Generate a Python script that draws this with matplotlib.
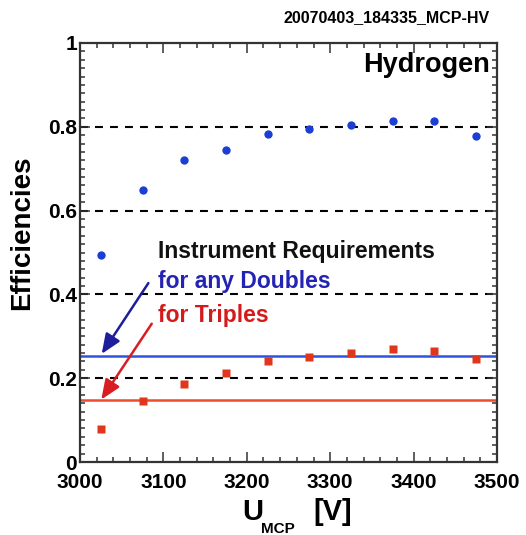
import matplotlib
matplotlib.use("Agg")
import matplotlib.pyplot as plt
from matplotlib.ticker import MultipleLocator, FixedLocator

# ---- data ----
u_mcp = [3025, 3075, 3125, 3175, 3225, 3275, 3325, 3375, 3425, 3475]
eff_doubles = [0.494, 0.648, 0.721, 0.744, 0.783, 0.795, 0.805, 0.815, 0.814, 0.779]
eff_triples = [0.078, 0.146, 0.186, 0.213, 0.240, 0.250, 0.259, 0.270, 0.264, 0.245]
req_doubles = 0.252
req_triples = 0.147
grid_levels = [0.2, 0.4, 0.6, 0.8]
x_ticks = [3000, 3100, 3200, 3300, 3400, 3500]
y_ticks = [0, 0.2, 0.4, 0.6, 0.8, 1.0]
y_tick_labels = ["0", "0.2", "0.4", "0.6", "0.8", "1"]
title_text = "20070403_184335_MCP-HV"
species = "Hydrogen"
req_lines = ["Instrument Requirements", "for any Doubles", "for Triples"]

plt.rcParams['font.family'] = ['Liberation Sans', 'DejaVu Sans']
plt.rcParams['font.weight'] = 'bold'

W, H = 526, 535
fig = plt.figure(figsize=(W / 100, H / 100), dpi=100)
left, right, bottom, top = 80 / W, 497 / W, 1 - 462 / H, 1 - 43 / H
ax = fig.add_axes([left, bottom, right - left, top - bottom])

ax.set_xlim(3000, 3500)
ax.set_ylim(0, 1)

# dashed grid lines
for g in grid_levels:
    ax.axhline(g, color='black', lw=1.5, ls=(0, (3.8, 3.4)), zorder=1)

# requirement lines
ax.axhline(req_doubles, color='#2f52e0', lw=1.8, zorder=2)
ax.axhline(req_triples, color='#ee4a2c', lw=1.8, zorder=2)

# data
ax.plot(u_mcp, eff_doubles, 'o', color='#1b3fd6', ms=6.0, mec='none', zorder=3)
ax.plot(u_mcp, eff_triples, 's', color='#e0361c', ms=5.6, mec='none', zorder=3)

# texts
ax.text(0.983, 0.931, species, transform=ax.transAxes, ha='right', va='baseline',
        fontsize=19.5, fontweight='bold', color='black')
ax.text(3093.5, 0.486, req_lines[0], ha='left', va='baseline', fontsize=16.5,
        fontweight='bold', color='#111111')
ax.text(3093.5, 0.415, req_lines[1], ha='left', va='baseline', fontsize=16.5,
        fontweight='bold', color='#2323b4')
ax.text(3093.5, 0.333, req_lines[2], ha='left', va='baseline', fontsize=16.5,
        fontweight='bold', color='#d41a1a')

# arrows
ax.annotate('', xy=(3026, 0.258), xytext=(3082, 0.427),
            arrowprops=dict(arrowstyle='-|>,head_length=0.6,head_width=0.25',
                            color='#1e1e9c', lw=1.8,
                            mutation_scale=20, shrinkA=0, shrinkB=0))
ax.annotate('', xy=(3025.5, 0.149), xytext=(3086, 0.330),
            arrowprops=dict(arrowstyle='-|>,head_length=0.6,head_width=0.25',
                            color='#d81e22', lw=1.8,
                            mutation_scale=20, shrinkA=0, shrinkB=0))

# ticks
ax.xaxis.set_major_locator(FixedLocator(x_ticks))
ax.xaxis.set_minor_locator(MultipleLocator(20))
ax.yaxis.set_major_locator(FixedLocator(y_ticks))
ax.yaxis.set_minor_locator(MultipleLocator(0.02))
ax.set_yticklabels(y_tick_labels)
ax.tick_params(which='both', direction='in', top=True, right=True, color='#333333', width=1.1)
ax.tick_params(which='major', length=7)
ax.tick_params(which='minor', length=3.5)
ax.tick_params(axis='x', which='major', labelsize=15, pad=8)
ax.tick_params(axis='y', which='major', labelsize=15, pad=2)
for lab in ax.get_xticklabels() + ax.get_yticklabels():
    lab.set_fontweight('bold')
for s in ax.spines.values():
    s.set_linewidth(1.6)
    s.set_color('#333333')

# axis titles
fig.text(22 / W, 1 - 233 / H, "Efficiencies", rotation=90, ha='center', va='center',
         fontsize=20, fontweight='bold')
fig.text(242 / W, 1 - 520 / H, "U", ha='left', va='baseline', fontsize=21, fontweight='bold')
fig.text(261 / W, 1 - 533 / H, "MCP", ha='left', va='baseline', fontsize=11, fontweight='bold')
fig.text(313 / W, 1 - 520 / H, "[V]", ha='left', va='baseline', fontsize=21, fontweight='bold')

# top title
fig.text(490 / W, 1 - 22 / H, title_text, ha='right', va='baseline', fontsize=11.5,
         fontweight='bold')

fig.savefig("out.png", dpi=100)
